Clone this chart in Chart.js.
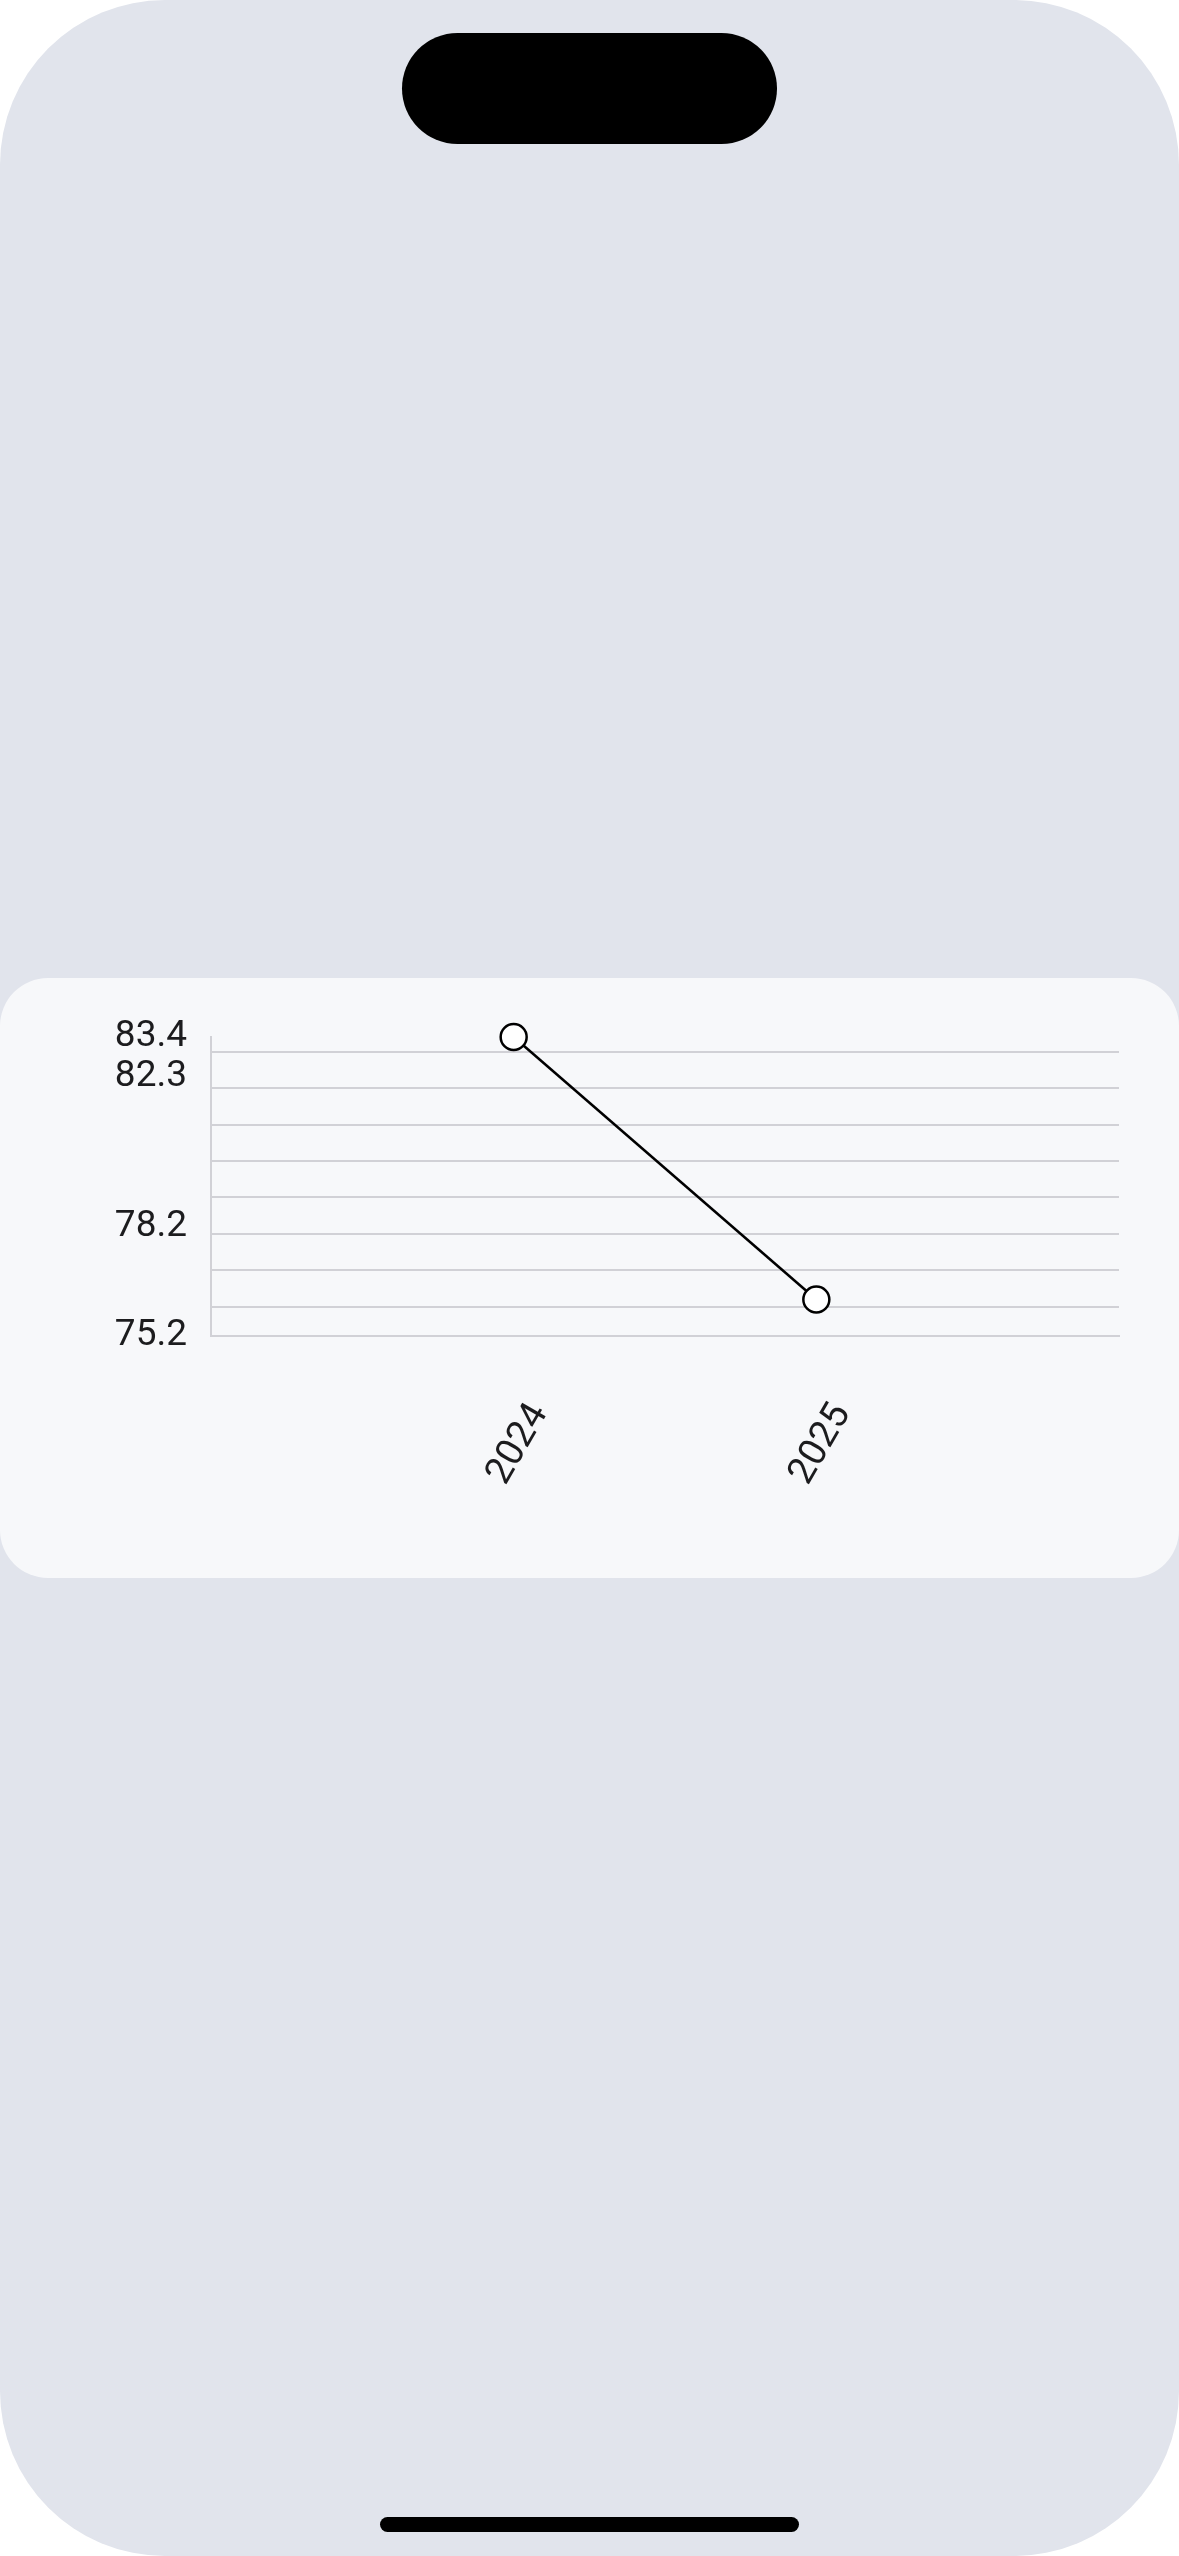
<!DOCTYPE html>
<html>
<head>
<meta charset="utf-8">
<script src="https://cdn.jsdelivr.net/npm/chart.js@4.4.1/dist/chart.umd.min.js"></script>
<style>
  html, body { margin: 0; padding: 0; background: #ffffff; }
  body { width: 1179px; height: 2556px; position: relative; overflow: hidden; }
  .phone {
    position: absolute; left: 0; top: 0; width: 1179px; height: 2556px;
    background: #e1e4ec; border-radius: 165px;
  }
  .island {
    position: absolute; left: 402px; top: 33px; width: 375px; height: 111px;
    background: #000; border-radius: 56px;
  }
  .home-bar {
    position: absolute; left: 380px; top: 2517px; width: 419px; height: 15px;
    background: #000; border-radius: 8px;
  }
  .card {
    position: absolute; left: 0; top: 978px; width: 1179px; height: 600px;
    background: #f7f8fa; border-radius: 48px;
  }
  .chart-box { position: absolute; left: 0; top: 0; width: 1179px; height: 600px; }
</style>
</head>
<body>
<div class="phone">
  <div class="island"></div>
  <div class="card">
    <div class="chart-box"><canvas id="trendChart"></canvas></div>
  </div>
  <div class="home-bar"></div>
</div>

<script>
// ==== Data ====
const years = [2024, 2025];
const scores = [83.4, 76.2];
const yTickLabels = [75.2, 78.2, 82.3, 83.4];
const yGridValues = [76, 77, 78, 79, 80, 81, 82, 83];
const yMin = 75.2;
const yMax = 83.4;
const xMin = 2023;
const xMax = 2026;

const gridColor = '#d1d1d6';
const textColor = '#1c1c1e';

const ctx = document.getElementById('trendChart');
if (ctx) {
  new Chart(ctx, {
    type: 'line',
    data: {
      datasets: [{
        data: years.map((yr, i) => ({ x: yr, y: scores[i] })),
        borderColor: '#000000',
        borderWidth: 2.5,
        pointRadius: 13,
        pointBorderWidth: 2.5,
        pointBackgroundColor: '#ffffff',
        pointBorderColor: '#000000',
        tension: 0,
        clip: false
      }]
    },
    options: {
      responsive: true,
      maintainAspectRatio: false,
      animation: false,
      layout: {
        autoPadding: false,
        padding: { left: 91, right: 60, top: 59, bottom: 42 }
      },
      plugins: {
        legend: { display: false },
        tooltip: { enabled: false }
      },
      scales: {
        x: {
          type: 'linear',
          min: xMin,
          max: xMax,
          afterBuildTicks: (scale) => {
            scale.ticks = years.map(v => ({ value: v }));
          },
          afterFit: (scale) => { scale.height = 200; },
          grid: { display: false, drawTicks: false },
          border: { display: true, color: gridColor, width: 2 },
          ticks: {
            autoSkip: false,
            minRotation: 60,
            maxRotation: 60,
            padding: 60,
            labelOffset: 26,
            color: textColor,
            font: { family: 'Roboto', size: 38 },
            callback: (value) => String(value)
          }
        },
        y: {
          min: yMin,
          max: yMax,
          afterBuildTicks: (scale) => {
            const vals = [...new Set([...yGridValues, ...yTickLabels])].sort((a, b) => a - b);
            scale.ticks = vals.map(v => ({ value: v }));
          },
          afterFit: (scale) => { scale.width = 120; },
          grid: {
            drawTicks: false,
            lineWidth: 2,
            color: (c) => (c.tick && yGridValues.includes(c.tick.value)) ? gridColor : 'rgba(0,0,0,0)'
          },
          border: { display: true, color: gridColor, width: 2 },
          ticks: {
            autoSkip: false,
            padding: 24,
            color: textColor,
            font: { family: 'Roboto', size: 37 },
            callback: (value) => yTickLabels.includes(value) ? value.toFixed(1) : ''
          }
        }
      }
    }
  });
}
</script>
</body>
</html>
